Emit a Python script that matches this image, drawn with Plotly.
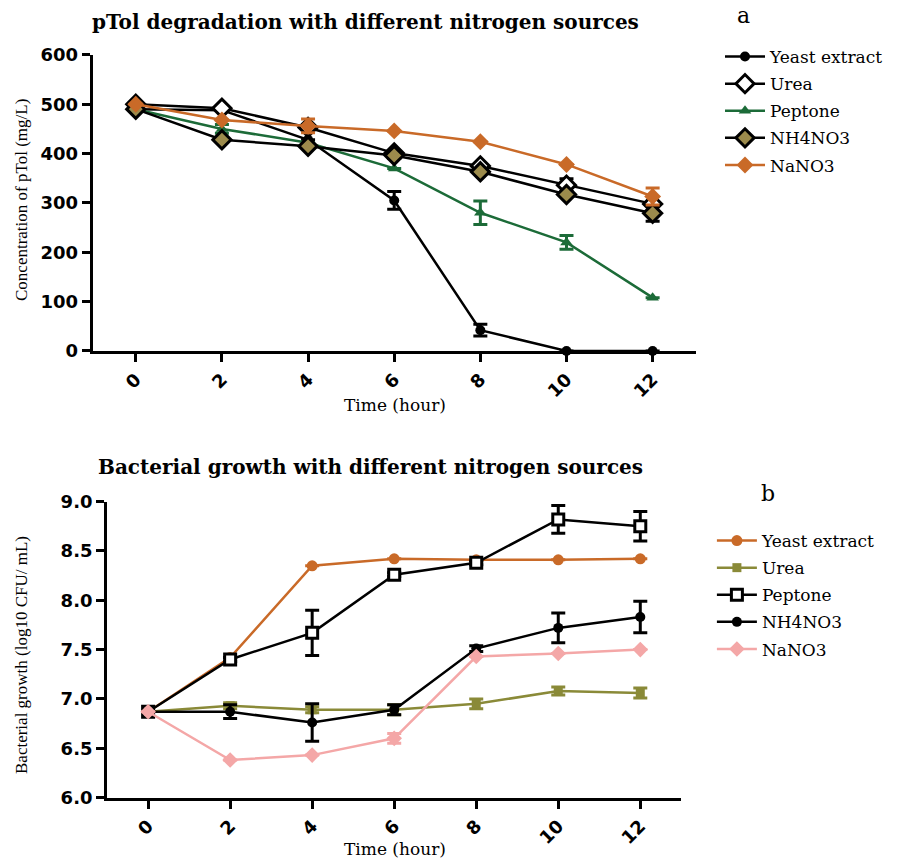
import plotly.graph_objects as go

# Sampling times (hours)
hours = [0, 2, 4, 6, 8, 10, 12]
tick_labels = ["0", "2", "4", "6", "8", "10", "12"]

# Panel a: pTol concentration (mg/L)
yeast_a = [490, 488, 428, 305, 42, 0, 0]
yeast_a_err = [0, 0, 0, 18, 12, 0, 0]
urea_a = [500, 492, 453, 401, 375, 336, 298]
urea_a_err = [0, 0, 0, 0, 0, 13, 0]
peptone_a = [490, 450, 422, 370, 280, 220, 108]
peptone_a_err = [0, 9, 0, 0, 24, 14, 0]
nh4no3_a = [490, 428, 415, 396, 363, 317, 279]
nh4no3_a_err = [0, 0, 0, 6, 0, 0, 16]
nano3_a = [500, 468, 456, 446, 424, 378, 313]
nano3_a_err = [0, 0, 14, 0, 0, 0, 17]

# Panel b: bacterial growth (log10 CFU/mL)
yeast_b = [6.87, 7.42, 8.35, 8.42, 8.41, 8.41, 8.42]
yeast_b_err = [0, 0, 0, 0, 0, 0, 0]
urea_b = [6.87, 6.93, 6.89, 6.89, 6.95, 7.08, 7.06]
urea_b_err = [0, 0.03, 0.03, 0.05, 0.05, 0.04, 0.05]
peptone_b = [6.87, 7.40, 7.67, 8.26, 8.38, 8.82, 8.75]
peptone_b_err = [0, 0.02, 0.23, 0.02, 0.02, 0.14, 0.15]
nh4no3_b = [6.87, 6.87, 6.76, 6.89, 7.51, 7.72, 7.83]
nh4no3_b_err = [0, 0.07, 0.19, 0.05, 0.03, 0.15, 0.16]
nano3_b = [6.87, 6.38, 6.43, 6.60, 7.43, 7.46, 7.50]
nano3_b_err = [0, 0, 0, 0.05, 0, 0, 0]

ORANGE = "#C96A28"
GREEN = "#1C6B38"
OLIVE = "#8A8A38"
KHAKI = "#9C8B4C"
PINK = "#F4A7A7"
BLACK = "#000000"

SERIF = "Liberation Serif"
WIDE_SERIF = "DejaVu Serif"
SANS = "DejaVu Sans"

fig = go.Figure()


def add_series(name, y, err, color, marker, xaxis, yaxis, legend, group):
    fig.add_trace(go.Scatter(
        x=hours, y=y, name=name, mode="lines+markers",
        line=dict(color=color, width=2.5),
        marker=marker,
        error_y=dict(type="data", array=err, visible=True,
                     color=color, thickness=3, width=7),
        xaxis=xaxis, yaxis=yaxis, legend=legend, legendgroup=group,
        cliponaxis=False,
    ))


# Panel a traces
add_series("Yeast extract", yeast_a, yeast_a_err, BLACK,
           dict(symbol="circle", size=10, color=BLACK), "x", "y", "legend", "a1")
add_series("Urea", urea_a, urea_a_err, BLACK,
           dict(symbol="diamond", size=14, color="white",
                line=dict(color=BLACK, width=3)), "x", "y", "legend", "a2")
add_series("Peptone", peptone_a, peptone_a_err, GREEN,
           dict(symbol="triangle-up", size=11, color=GREEN), "x", "y", "legend", "a3")
add_series("NH4NO3", nh4no3_a, nh4no3_a_err, BLACK,
           dict(symbol="diamond", size=14, color=KHAKI,
                line=dict(color=BLACK, width=3)), "x", "y", "legend", "a4")
add_series("NaNO3", nano3_a, nano3_a_err, ORANGE,
           dict(symbol="diamond", size=13, color=ORANGE), "x", "y", "legend", "a5")

# Panel b traces
add_series("Yeast extract", yeast_b, yeast_b_err, ORANGE,
           dict(symbol="circle", size=11, color=ORANGE), "x2", "y2", "legend2", "b1")
add_series("Urea", urea_b, urea_b_err, OLIVE,
           dict(symbol="square", size=9, color=OLIVE), "x2", "y2", "legend2", "b2")
add_series("Peptone", peptone_b, peptone_b_err, BLACK,
           dict(symbol="square", size=11, color="white",
                line=dict(color=BLACK, width=3)), "x2", "y2", "legend2", "b3")
add_series("NH4NO3", nh4no3_b, nh4no3_b_err, BLACK,
           dict(symbol="circle", size=10, color=BLACK), "x2", "y2", "legend2", "b4")
add_series("NaNO3", nano3_b, nano3_b_err, PINK,
           dict(symbol="diamond", size=12, color=PINK), "x2", "y2", "legend2", "b5")

axis_common = dict(
    showline=True, linecolor=BLACK, linewidth=3, showgrid=False, zeroline=False,
    ticks="outside", ticklen=8, tickwidth=3, tickcolor=BLACK,
    tickfont=dict(family=SANS, size=18, color=BLACK, weight="bold"),
)

xaxis_common = dict(axis_common, range=[-1.0, 13.0], tickvals=hours,
                    ticktext=tick_labels, tickangle=-45)

legend_common = dict(
    font=dict(family=WIDE_SERIF, size=17, color=BLACK),
    bgcolor="rgba(0,0,0,0)", tracegroupgap=2, itemwidth=40,
    xanchor="left", yanchor="top", traceorder="grouped",
)

fig.update_layout(
    width=900, height=858,
    margin=dict(l=0, r=0, t=0, b=0, pad=0, autoexpand=False),
    paper_bgcolor="white", plot_bgcolor="white",
    xaxis=dict(xaxis_common, domain=[0.103, 0.773], anchor="y"),
    yaxis=dict(axis_common, range=[0, 600], tickvals=[0, 100, 200, 300, 400, 500, 600],
               domain=[0.591, 0.936], anchor="x"),
    xaxis2=dict(xaxis_common, domain=[0.119, 0.757], anchor="y2"),
    yaxis2=dict(axis_common, range=[6.0, 9.0],
                tickvals=[6.0, 6.5, 7.0, 7.5, 8.0, 8.5, 9.0],
                ticktext=["6.0", "6.5", "7.0", "7.5", "8.0", "8.5", "9.0"],
                domain=[0.0705, 0.4153], anchor="x2"),
    legend=dict(legend_common, x=0.800, y=1 - 39 / 858),
    legend2=dict(legend_common, x=0.791, y=1 - 523 / 858),
    showlegend=True,
)

annotations = [
    dict(text="pTol degradation with different nitrogen sources",
         x=365 / 900, y=1 - 22 / 858,
         font=dict(family=WIDE_SERIF, size=20, color=BLACK, weight="bold")),
    dict(text="Bacterial growth with different nitrogen sources",
         x=370 / 900, y=1 - 467 / 858,
         font=dict(family=WIDE_SERIF, size=20, color=BLACK, weight="bold")),
    dict(text="a", x=743 / 900, y=1 - 15 / 858,
         font=dict(family=WIDE_SERIF, size=22, color=BLACK)),
    dict(text="b", x=768 / 900, y=1 - 493 / 858,
         font=dict(family=WIDE_SERIF, size=22, color=BLACK)),
    dict(text="Time (hour)", x=395 / 900, y=1 - 405 / 858,
         font=dict(family=WIDE_SERIF, size=17, color=BLACK)),
    dict(text="Time (hour)", x=395 / 900, y=1 - 849 / 858,
         font=dict(family=WIDE_SERIF, size=17, color=BLACK)),
    dict(text="Concentration of pTol (mg/L)", x=21 / 900, y=1 - 200 / 858,
         textangle=-90, font=dict(family=SERIF, size=17, color=BLACK)),
    dict(text="Bacterial growth (log10 CFU/ mL)", x=21 / 900, y=1 - 655 / 858,
         textangle=-90, font=dict(family=SERIF, size=17, color=BLACK)),
]
for a in annotations:
    a.update(xref="paper", yref="paper", showarrow=False,
             xanchor="center", yanchor="middle")
fig.update_layout(annotations=annotations)

fig.write_html("out.html")
